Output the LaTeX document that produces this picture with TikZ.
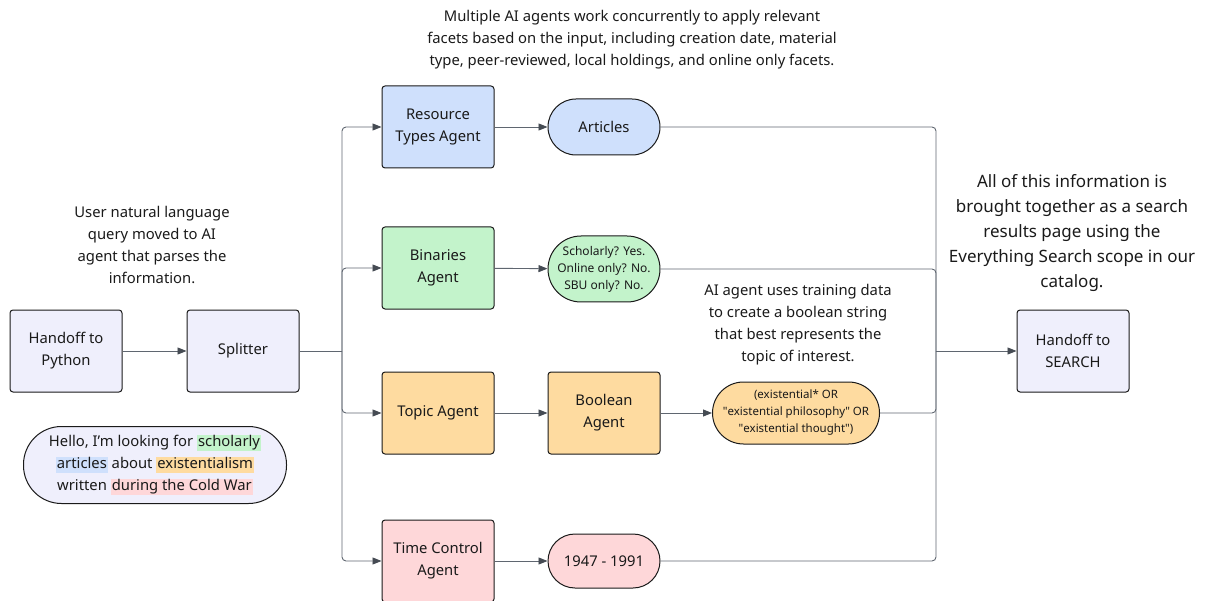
\documentclass[tikz,border=0pt]{standalone}
\usepackage{fontspec}
\setmainfont{Noto Sans}
\usetikzlibrary{arrows.meta}
\definecolor{lav}{HTML}{EFEFFC}
\definecolor{bluef}{HTML}{CFE0FC}
\definecolor{greenf}{HTML}{C3F3CB}
\definecolor{orangef}{HTML}{FEDBA0}
\definecolor{pinkf}{HTML}{FED7D9}
\definecolor{edge}{HTML}{5F6670}
\definecolor{tip}{HTML}{454B53}
\definecolor{ink}{HTML}{1A1A1A}
\newcommand\hlt[2]{{\setlength{\fboxsep}{1pt}\colorbox{#1}{\vphantom{Ay(}#2}}}
\newcommand\sq{\XeTeXglyph\XeTeXcharglyph"22\relax}
\begin{document}
\begin{tikzpicture}[x=1pt,y=-1pt,
  box/.style={draw=ink, line width=1pt, rounded corners=3pt, minimum width=112pt, minimum height=82pt, inner sep=0pt, align=center, text=ink, font=\fontsize{14.8}{22}\selectfont},
  pill/.style={draw=ink, line width=1pt, inner sep=0pt, align=center, text=ink, font=\fontsize{14.8}{22}\selectfont},
  conn/.style={draw=edge, line width=0.9pt, rounded corners=4pt},
  arr/.style={conn, -{Triangle[length=9pt,width=7pt,fill=tip,color=tip]}},
  note/.style={align=center, text=ink, inner sep=0pt, font=\fontsize{14.8}{22}\selectfont}]
\useasboundingbox (0,0) rectangle (1206,601);

% left side
\node[box, fill=lav] (py) at (66,351) {Handoff to\\Python};
\node[box, fill=lav] (split) at (243,351) {Splitter};
\node[pill, fill=lav, minimum width=263pt, minimum height=77pt, rounded corners=38pt] (hello) at (155,465)
  {Hello, I’m looking for \hlt{greenf}{scholarly}\\
   \hlt{bluef}{articles} about \hlt{orangef}{existentialism}\\
   written \hlt{pinkf}{during the Cold War}};
\node[note] (n1) at (152,245) {User natural language\\query moved to AI\\agent that parses the\\information.};

% agents
\node[box, fill=bluef] (rta) at (438,127) {Resource\\Types Agent};
\node[box, fill=greenf] (bin) at (438,268) {Binaries\\Agent};
\node[box, fill=orangef] (topic) at (438,413) {Topic Agent};
\node[box, fill=pinkf] (time) at (438,561) {Time Control\\Agent};

% outputs
\node[pill, fill=bluef, minimum width=112pt, minimum height=56pt, rounded corners=28pt] (art) at (604,127) {Articles};
\node[pill, fill=greenf, minimum width=112pt, minimum height=66pt, rounded corners=33pt, font=\fontsize{12}{17}\selectfont] (sch) at (604,269) {Scholarly? Yes.\\Online only? No.\\SBU only? No.};
\node[box, fill=orangef] (bool) at (604,413) {Boolean\\Agent};
\node[pill, fill=orangef, minimum width=167pt, minimum height=62pt, rounded corners=31pt, font=\fontsize{11.5}{17}\selectfont] (bstr) at (796,413) {(existential* OR\\\sq existential philosophy\sq{} OR\\\sq existential thought\sq)};
\node[pill, fill=pinkf, minimum width=112pt, minimum height=54pt, rounded corners=27pt] (yrs) at (604,561) {1947 - 1991};

% search
\node[box, fill=lav] (search) at (1073,351) {Handoff to\\SEARCH};

% notes
\node[note] (n2) at (632,40) {Multiple AI agents work concurrently to apply relevant\\facets based on the input, including creation date, material\\type, peer-reviewed, local holdings, and online only facets.};
\node[note] (n3) at (798,325) {AI agent uses training data\\to create a boolean string\\that best represents the\\topic of interest.};
\node[note, font=\fontsize{17}{25}\selectfont] (n4) at (1072,233) {All of this information is\\brought together as a search\\results page using the\\Everything Search scope in our\\catalog.};

% connectors
\coordinate (j1) at (342,351);
\coordinate (j2) at (936,351);
\draw[arr] (py) -- (split);
\draw[conn] (split.east) -- (j1);
\draw[arr] (j1) |- (rta.west);
\draw[arr] (j1) |- (bin.west);
\draw[arr] (j1) |- (topic.west);
\draw[arr] (j1) |- (time.west);
\draw[arr] (rta) -- (art);
\draw[arr] (bin) -- (sch);
\draw[arr] (topic) -- (bool);
\draw[arr] (bool) -- (bstr);
\draw[arr] (time) -- (yrs);
\draw[conn] (art.east) -| (j2);
\draw[conn] (sch.east) -| (j2);
\draw[conn] (bstr.east) -| (j2);
\draw[conn] (yrs.east) -| (j2);
\draw[arr] (j2) -- (search);
\end{tikzpicture}
\end{document}
